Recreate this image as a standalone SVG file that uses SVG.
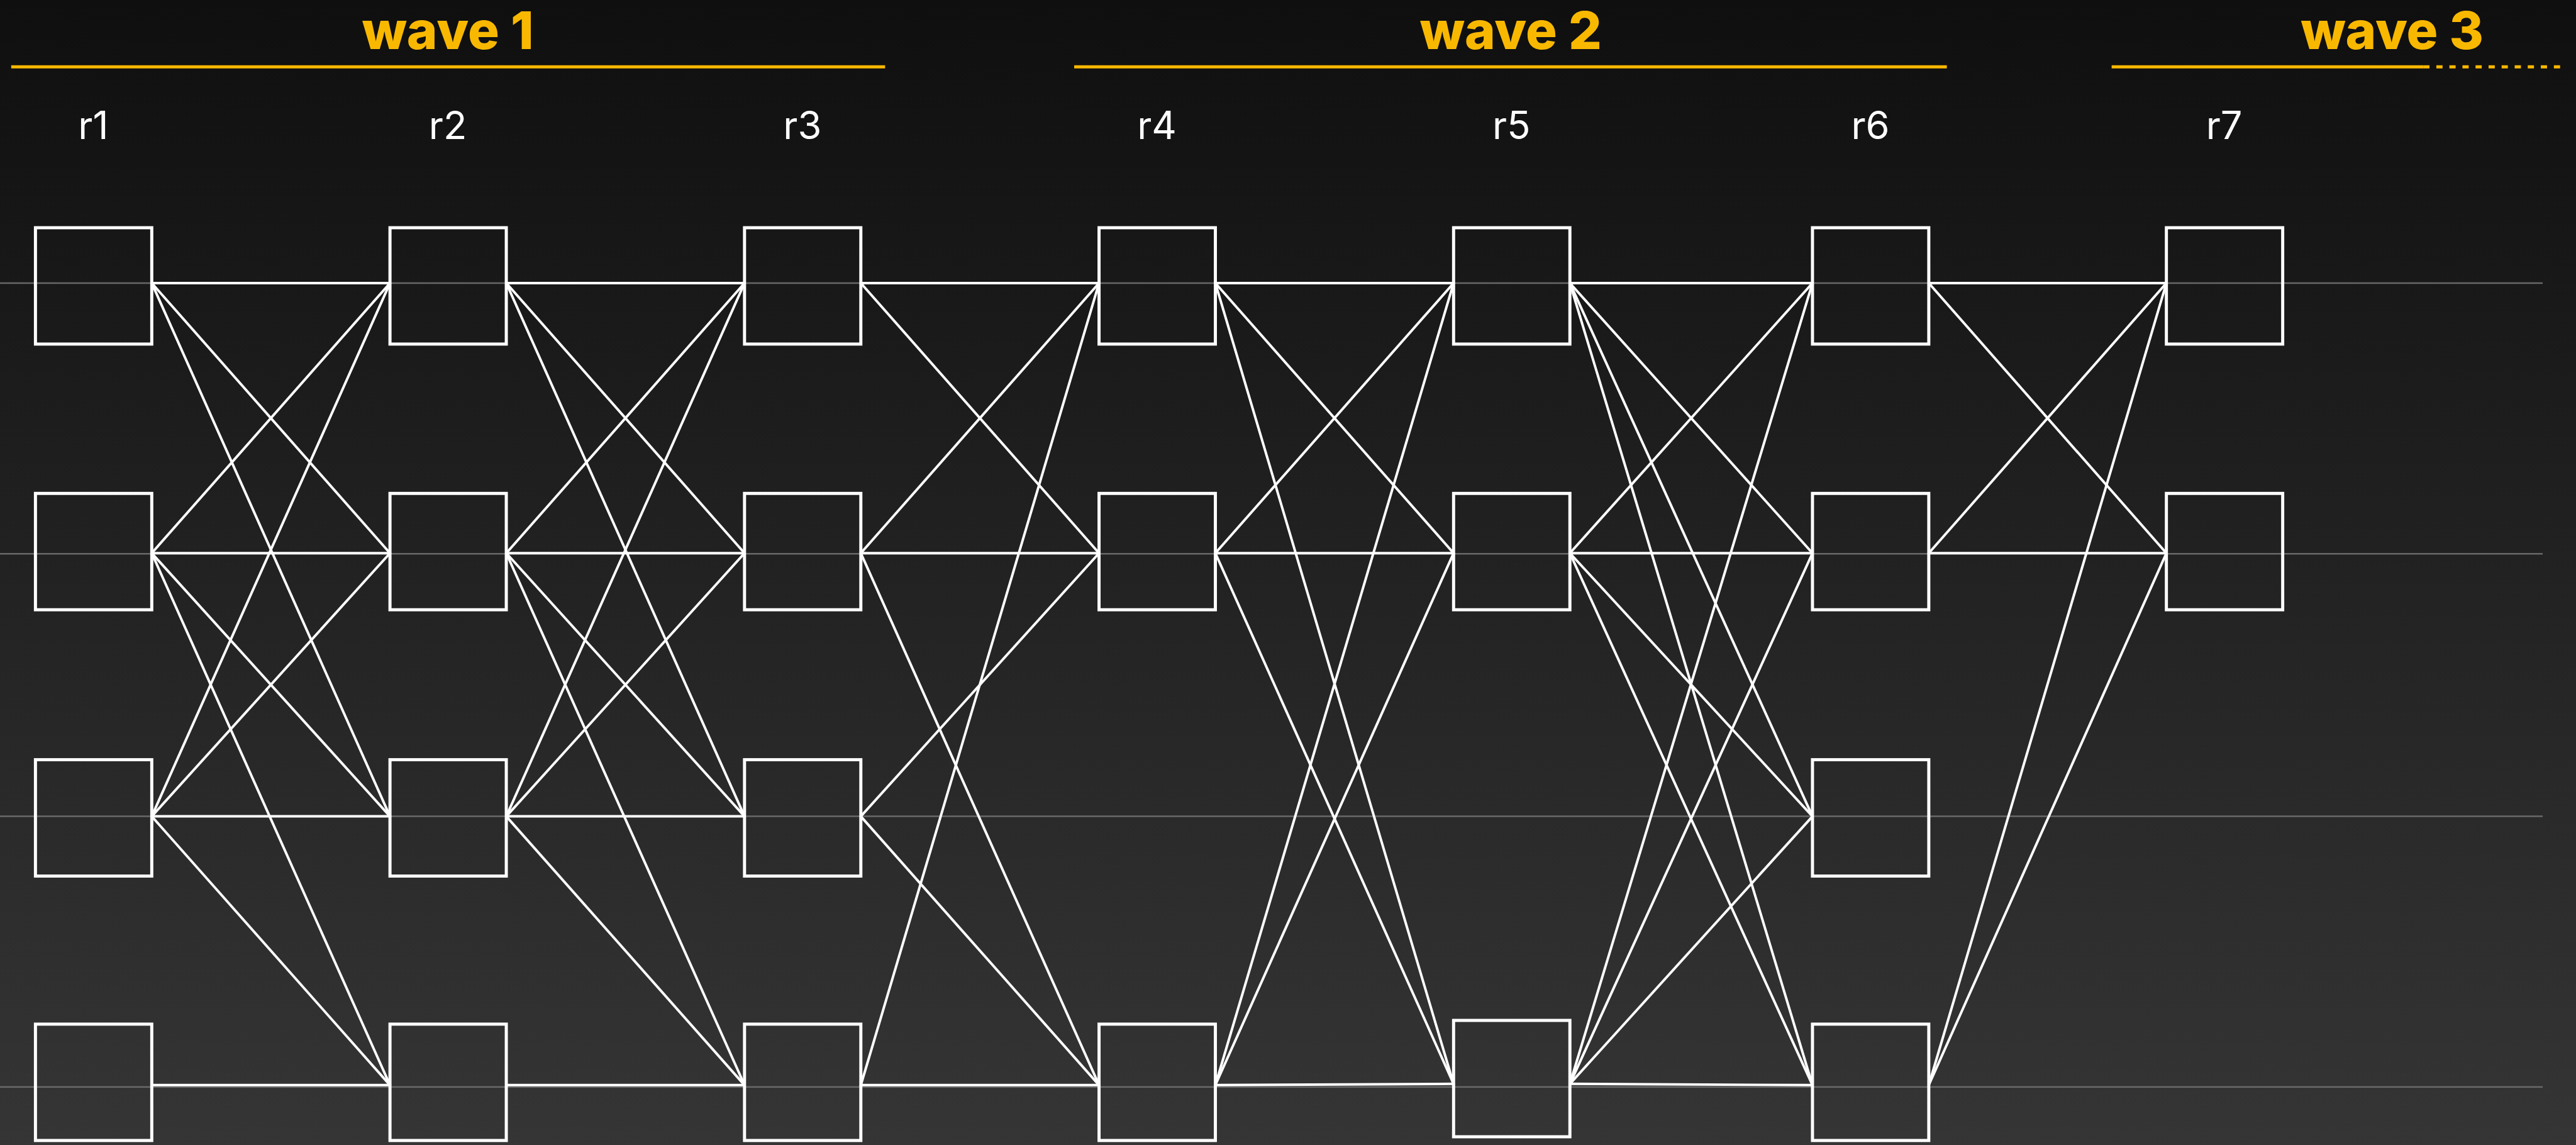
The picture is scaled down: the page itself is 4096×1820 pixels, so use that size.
<svg xmlns="http://www.w3.org/2000/svg" width="4096" height="1820" viewBox="0 0 4096 1820">
<defs>
<linearGradient id="bg" x1="0" y1="0" x2="0" y2="1">
<stop offset="0" stop-color="#0f0f0f"/>
<stop offset="1" stop-color="#353535"/>
</linearGradient>
<style>
.wave{font-family:Inter,"Liberation Sans",sans-serif;font-weight:800;font-size:84px;fill:#f9b800;text-anchor:middle}
.lbl{font-family:Inter,"Liberation Sans",sans-serif;font-weight:400;font-size:62px;fill:#ffffff;text-anchor:middle}
.uline{stroke:#f9b800;stroke-width:5;fill:none}
.dots{stroke:#f9b800;stroke-width:5;fill:none;stroke-dasharray:10 11}
.grid{stroke:#686868;stroke-width:2.5}
.box{fill:none;stroke:#ffffff;stroke-width:5}
#connectors line{stroke:#ffffff;stroke-width:4;stroke-linecap:round}
</style>
</defs>
<rect x="0" y="0" width="4096" height="1820" fill="url(#bg)"/>
<g transform="scale(0.989)">
<g id="headers">
<text class="wave" x="720" y="79">wave 1</text>
<line class="uline" x1="18" y1="107.5" x2="1423" y2="107.5"/>
<text class="wave" x="2429" y="79">wave 2</text>
<line class="uline" x1="1727" y1="107.5" x2="3130" y2="107.5"/>
<text class="wave" x="3846" y="79">wave 3</text>
<line class="uline" x1="3395" y1="107.5" x2="3896" y2="107.5"/>
<line class="dots" x1="3896" y1="107.5" x2="4121" y2="107.5"/>
</g>
<g id="labels">
<text class="lbl" x="150" y="223">r1</text>
<text class="lbl" x="720" y="223">r2</text>
<text class="lbl" x="1290" y="223">r3</text>
<text class="lbl" x="1860" y="223">r4</text>
<text class="lbl" x="2430" y="223">r5</text>
<text class="lbl" x="3007" y="223">r6</text>
<text class="lbl" x="3576" y="223">r7</text>
</g>
<g id="gridlines">
<line class="grid" x1="0" y1="455" x2="4088" y2="455"/>
<line class="grid" x1="0" y1="890" x2="4088" y2="890"/>
<line class="grid" x1="0" y1="1312" x2="4088" y2="1312"/>
<line class="grid" x1="0" y1="1747" x2="4088" y2="1747"/>
</g>
<g id="connectors">
<line x1="244" y1="455" x2="627" y2="455"/>
<line x1="244" y1="455" x2="627" y2="889"/>
<line x1="244" y1="455" x2="627" y2="1312"/>
<line x1="244" y1="889" x2="627" y2="455"/>
<line x1="244" y1="889" x2="627" y2="889"/>
<line x1="244" y1="889" x2="627" y2="1312"/>
<line x1="244" y1="889" x2="627" y2="1744"/>
<line x1="244" y1="1312" x2="627" y2="455"/>
<line x1="244" y1="1312" x2="627" y2="889"/>
<line x1="244" y1="1312" x2="627" y2="1312"/>
<line x1="244" y1="1312" x2="627" y2="1744"/>
<line x1="244" y1="1744" x2="627" y2="1744"/>
<line x1="814" y1="455" x2="1197" y2="455"/>
<line x1="814" y1="455" x2="1197" y2="889"/>
<line x1="814" y1="455" x2="1197" y2="1312"/>
<line x1="814" y1="889" x2="1197" y2="455"/>
<line x1="814" y1="889" x2="1197" y2="889"/>
<line x1="814" y1="889" x2="1197" y2="1312"/>
<line x1="814" y1="889" x2="1197" y2="1744"/>
<line x1="814" y1="1312" x2="1197" y2="455"/>
<line x1="814" y1="1312" x2="1197" y2="889"/>
<line x1="814" y1="1312" x2="1197" y2="1312"/>
<line x1="814" y1="1312" x2="1197" y2="1744"/>
<line x1="814" y1="1744" x2="1197" y2="1744"/>
<line x1="1384" y1="455" x2="1767" y2="455"/>
<line x1="1384" y1="455" x2="1767" y2="889"/>
<line x1="1384" y1="889" x2="1767" y2="455"/>
<line x1="1384" y1="889" x2="1767" y2="889"/>
<line x1="1384" y1="889" x2="1767" y2="1744"/>
<line x1="1384" y1="1312" x2="1767" y2="889"/>
<line x1="1384" y1="1312" x2="1767" y2="1744"/>
<line x1="1384" y1="1744" x2="1767" y2="455"/>
<line x1="1384" y1="1744" x2="1767" y2="1744"/>
<line x1="1954" y1="455" x2="2337" y2="455"/>
<line x1="1954" y1="455" x2="2337" y2="889"/>
<line x1="1954" y1="455" x2="2337" y2="1742"/>
<line x1="1954" y1="889" x2="2337" y2="455"/>
<line x1="1954" y1="889" x2="2337" y2="889"/>
<line x1="1954" y1="889" x2="2337" y2="1742"/>
<line x1="1954" y1="1744" x2="2337" y2="455"/>
<line x1="1954" y1="1744" x2="2337" y2="889"/>
<line x1="1954" y1="1744" x2="2337" y2="1742"/>
<line x1="2524" y1="455" x2="2914" y2="455"/>
<line x1="2524" y1="455" x2="2914" y2="889"/>
<line x1="2524" y1="455" x2="2914" y2="1312"/>
<line x1="2524" y1="455" x2="2914" y2="1744"/>
<line x1="2524" y1="889" x2="2914" y2="455"/>
<line x1="2524" y1="889" x2="2914" y2="889"/>
<line x1="2524" y1="889" x2="2914" y2="1312"/>
<line x1="2524" y1="889" x2="2914" y2="1744"/>
<line x1="2524" y1="1742" x2="2914" y2="455"/>
<line x1="2524" y1="1742" x2="2914" y2="889"/>
<line x1="2524" y1="1742" x2="2914" y2="1312"/>
<line x1="2524" y1="1742" x2="2914" y2="1744"/>
<line x1="3101" y1="455" x2="3483" y2="455"/>
<line x1="3101" y1="455" x2="3483" y2="889"/>
<line x1="3101" y1="889" x2="3483" y2="455"/>
<line x1="3101" y1="889" x2="3483" y2="889"/>
<line x1="3101" y1="1744" x2="3483" y2="455"/>
<line x1="3101" y1="1744" x2="3483" y2="889"/>
</g>
<g id="r1-1"><rect class="box" x="57" y="366" width="187" height="187"/></g>
<g id="r1-2"><rect class="box" x="57" y="793" width="187" height="187"/></g>
<g id="r1-3"><rect class="box" x="57" y="1221" width="187" height="187"/></g>
<g id="r1-4"><rect class="box" x="57" y="1646" width="187" height="187"/></g>
<g id="r2-1"><rect class="box" x="627" y="366" width="187" height="187"/></g>
<g id="r2-2"><rect class="box" x="627" y="793" width="187" height="187"/></g>
<g id="r2-3"><rect class="box" x="627" y="1221" width="187" height="187"/></g>
<g id="r2-4"><rect class="box" x="627" y="1646" width="187" height="187"/></g>
<g id="r3-1"><rect class="box" x="1197" y="366" width="187" height="187"/></g>
<g id="r3-2"><rect class="box" x="1197" y="793" width="187" height="187"/></g>
<g id="r3-3"><rect class="box" x="1197" y="1221" width="187" height="187"/></g>
<g id="r3-4"><rect class="box" x="1197" y="1646" width="187" height="187"/></g>
<g id="r4-1"><rect class="box" x="1767" y="366" width="187" height="187"/></g>
<g id="r4-2"><rect class="box" x="1767" y="793" width="187" height="187"/></g>
<g id="r4-4"><rect class="box" x="1767" y="1646" width="187" height="187"/></g>
<g id="r5-1"><rect class="box" x="2337" y="366" width="187" height="187"/></g>
<g id="r5-2"><rect class="box" x="2337" y="793" width="187" height="187"/></g>
<g id="r5-4"><rect class="box" x="2337" y="1640" width="187" height="187"/></g>
<g id="r6-1"><rect class="box" x="2914" y="366" width="187" height="187"/></g>
<g id="r6-2"><rect class="box" x="2914" y="793" width="187" height="187"/></g>
<g id="r6-3"><rect class="box" x="2914" y="1221" width="187" height="187"/></g>
<g id="r6-4"><rect class="box" x="2914" y="1646" width="187" height="187"/></g>
<g id="r7-1"><rect class="box" x="3483" y="366" width="187" height="187"/></g>
<g id="r7-2"><rect class="box" x="3483" y="793" width="187" height="187"/></g>
</g>
</svg>
